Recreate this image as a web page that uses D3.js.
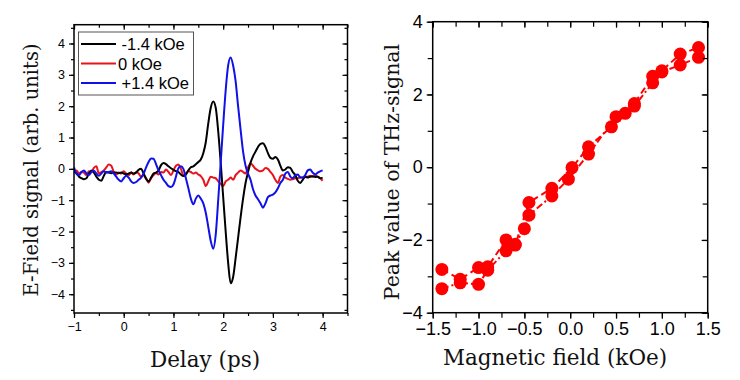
<!DOCTYPE html>
<html lang="en">
<head>
<meta charset="utf-8">
<title>THz signal vs delay and field</title>
<script src="https://cdnjs.cloudflare.com/ajax/libs/d3/7.8.5/d3.min.js"></script>
<style>
  body { margin: 0; background: #fff; }
  svg { display: block; }
  .tick text { font-family: "Liberation Sans", Arial, sans-serif; fill: #000; }
  .tick line { stroke: #000; stroke-width: 1.2; }
  .title { font-family: "DejaVu Serif", "Liberation Serif", serif; fill: #111; }
  .legend text { font-family: "Liberation Sans", Arial, sans-serif; font-size: 16.5px; }
</style>
</head>
<body>
<svg id="chart" width="740" height="380"></svg>
<script>
// ---- left panel: E-field traces
const delay = [-1.00,-0.95,-0.90,-0.85,-0.80,-0.75,-0.70,-0.65,-0.60,-0.55,-0.50,-0.45,-0.40,-0.35,-0.30,-0.25,-0.20,-0.15,-0.10,-0.05,
  0.00,0.05,0.10,0.15,0.20,0.25,0.30,0.35,0.40,0.45,0.50,0.55,0.60,0.65,0.70,0.75,0.80,0.85,0.90,0.95,
  1.00,1.05,1.10,1.15,1.20,1.25,1.30,1.35,1.40,1.45,1.50,1.55,1.60,1.65,1.70,1.75,1.80,1.85,1.90,1.95,
  2.00,2.05,2.10,2.15,2.20,2.25,2.30,2.35,2.40,2.45,2.50,2.55,2.60,2.65,2.70,2.75,2.80,2.85,2.90,2.95,
  3.00,3.05,3.10,3.15,3.20,3.25,3.30,3.35,3.40,3.45,3.50,3.55,3.60,3.65,3.70,3.75,3.80,3.85,3.90,3.95,4.00];

const sigNeg = [-0.08,-0.15,-0.25,-0.30,-0.33,-0.30,-0.15,-0.05,-0.12,-0.25,-0.35,-0.38,-0.22,-0.10,-0.12,-0.14,-0.12,-0.12,-0.14,-0.12,
  -0.15,-0.18,-0.15,-0.12,-0.15,-0.12,-0.03,0.00,-0.15,-0.32,-0.40,-0.28,-0.15,-0.12,-0.05,0.12,0.19,0.15,0.08,0.02,
  -0.03,-0.07,-0.10,-0.18,-0.23,-0.18,-0.05,0.05,0.08,0.15,0.22,0.30,0.50,0.85,1.45,1.95,2.15,1.95,1.20,0.20,
  -0.90,-2.00,-3.00,-3.65,-3.45,-2.85,-2.20,-1.55,-0.95,-0.45,-0.10,0.20,0.40,0.55,0.70,0.80,0.82,0.70,0.50,0.35,
  0.32,0.38,0.30,0.10,-0.05,-0.02,0.05,0.03,-0.10,-0.20,-0.38,-0.45,-0.35,-0.25,-0.28,-0.25,-0.24,-0.26,-0.25,-0.30,-0.28];

const sigZero = [-0.10,-0.05,-0.15,-0.10,-0.12,-0.20,-0.08,-0.10,0.03,0.08,-0.15,-0.10,-0.05,0.05,0.14,0.10,-0.10,-0.18,-0.12,-0.15,
  -0.08,-0.15,-0.20,-0.12,-0.18,-0.10,-0.15,-0.25,-0.20,-0.30,-0.44,-0.30,-0.20,-0.13,-0.18,-0.10,-0.12,-0.02,-0.10,-0.20,
  -0.05,0.10,0.14,0.00,-0.20,-0.15,-0.07,-0.10,-0.15,-0.12,-0.18,-0.23,-0.35,-0.55,-0.40,-0.25,-0.28,-0.30,-0.40,-0.48,
  -0.55,-0.40,-0.35,-0.28,-0.35,-0.20,-0.12,-0.05,-0.10,-0.15,0.05,0.18,0.10,0.00,-0.05,-0.08,-0.05,0.03,0.00,-0.10,
  -0.20,-0.35,-0.45,-0.25,-0.20,-0.28,-0.32,-0.35,-0.33,-0.30,-0.30,-0.28,-0.28,-0.25,-0.25,-0.22,-0.25,-0.22,-0.25,-0.30,-0.38];

const sigPos = [0.05,-0.15,-0.20,-0.10,-0.05,-0.15,-0.20,-0.10,-0.06,-0.15,-0.22,-0.15,-0.08,-0.12,-0.10,-0.08,-0.15,-0.25,-0.35,-0.40,
  -0.30,-0.22,-0.28,-0.40,-0.45,-0.42,-0.35,-0.28,-0.15,0.05,0.22,0.33,0.32,0.15,-0.05,-0.20,-0.35,-0.45,-0.55,-0.58,
  -0.50,-0.25,0.02,0.08,0.00,-0.30,-0.62,-0.95,-1.13,-0.95,-0.85,-0.95,-1.10,-1.40,-1.85,-2.30,-2.55,-2.10,-1.00,0.20,
  1.40,2.50,3.30,3.55,3.30,2.80,2.00,1.25,0.55,0.10,-0.15,-0.35,-0.65,-0.85,-0.97,-1.10,-1.24,-1.10,-0.90,-0.85,
  -0.82,-0.75,-0.62,-0.45,-0.35,-0.15,-0.10,-0.25,-0.30,-0.20,-0.18,-0.28,-0.28,-0.20,-0.05,-0.02,-0.12,-0.18,-0.12,-0.08,-0.05];

const traceNames = ["-1.4 kOe", "0 kOe", "+1.4 kOe"];
const traceColors = ["#000000", "#e8141c", "#1010e8"];

// ---- right panel: peak value vs field (two sweeps)
const fieldA = [-1.4,-1.2,-1.0,-0.9,-0.7,-0.6,-0.45,-0.2,0.02,0.2,0.45,0.6,0.7,0.9,1.0,1.2,1.4];
const peakA  = [-2.81,-3.08,-2.76,-2.74,-2.00,-2.14,-0.97,-0.58,-0.01,0.56,1.11,1.48,1.75,2.50,2.65,3.11,3.29];
const fieldB = [-1.4,-1.2,-1.0,-0.9,-0.7,-0.6,-0.5,-0.45,-0.2,-0.02,0.2,0.5,0.7,0.9,1.0,1.2,1.4];
const peakB  = [-3.34,-3.18,-3.22,-2.83,-2.30,-2.12,-1.69,-1.32,-0.79,-0.33,0.36,1.39,1.68,2.32,2.62,2.81,3.02];

const svg = d3.select("#chart");

// framed box: outward ticks on bottom/left, inward ticks on top/right
function frame(x, y, opt) {
  const g = svg.append("g");
  const [x0, x1] = x.range(), [y0, y1] = y.range();
  const axes = [
    [d3.axisBottom(x), `translate(0,${y0})`, opt.xMajor, opt.xMinor, true, opt.xFont, opt.xFmt],
    [d3.axisTop(x), `translate(0,${y1})`, opt.xMajor, opt.xMinor, false],
    [d3.axisLeft(y), `translate(${x0},0)`, opt.yMajor, opt.yMinor, true, opt.yFont, opt.yFmt],
    [d3.axisRight(y), `translate(${x1},0)`, opt.yMajor, opt.yMinor, false]
  ];
  axes.forEach(([ax, tr, major, minor, outside, font, fmt]) => {
    const s = outside ? 1 : -1;
    g.append("g").attr("transform", tr)
      .call(ax.tickValues(minor).tickFormat("").tickSizeInner(s * opt.minorLen).tickSizeOuter(0))
      .call(a => a.select(".domain").remove());
    g.append("g").attr("transform", tr)
      .call(ax.tickValues(major).tickFormat(outside ? fmt : "").tickSizeInner(s * opt.majorLen)
        .tickSizeOuter(0).tickPadding(outside ? opt.pad : 3))
      .call(a => a.select(".domain").remove())
      .call(a => a.selectAll("text").style("font-size", font + "px"));
  });
  g.append("rect")
    .attr("x", x0).attr("y", y1)
    .attr("width", x1 - x0).attr("height", y0 - y1)
    .attr("fill", "none").attr("stroke", "#000").attr("stroke-width", 1.5);
  return g;
}

// ---- left panel
const xL = d3.scaleLinear().domain([-1, 4.5]).range([74, 347.5]);
const yL = d3.scaleLinear().domain([-4.6, 4.6]).range([313, 24.7]);

svg.append("clipPath").attr("id", "clipL").append("rect")
  .attr("x", 74).attr("y", 24.7).attr("width", 273.5).attr("height", 288.3);

const traces = [sigNeg, sigZero, sigPos];
const lineL = d3.line().x((d, i) => xL(delay[i])).y(d => yL(d)).curve(d3.curveMonotoneX);
const plotL = svg.append("g").attr("clip-path", "url(#clipL)");
// red first so black and blue stay on top
[1, 0, 2].forEach(k => {
  plotL.append("path").datum(traces[k])
    .attr("d", lineL)
    .attr("fill", "none")
    .attr("stroke", traceColors[k])
    .attr("stroke-width", 2)
    .attr("stroke-linejoin", "round");
});

frame(xL, yL, {
  xMajor: [-1, 0, 1, 2, 3, 4], xMinor: d3.range(-1, 4.51, 0.5),
  yMajor: [-4, -3, -2, -1, 0, 1, 2, 3, 4], yMinor: d3.range(-4.5, 4.51, 0.5),
  majorLen: 5, minorLen: 3, pad: 4, xFont: 12.5, yFont: 12.5,
  xFmt: d3.format("d"), yFmt: d3.format("d")
});

// legend
const leg = svg.append("g").attr("class", "legend");
leg.append("rect").attr("x", 78.5).attr("y", 32).attr("width", 115).attr("height", 63)
  .attr("fill", "#fff").attr("stroke", "#555").attr("stroke-width", 1);
traceNames.forEach((name, i) => {
  const yy = 44 + i * 19.5;
  leg.append("line").attr("x1", 81).attr("x2", 116).attr("y1", yy).attr("y2", yy)
    .attr("stroke", traceColors[i]).attr("stroke-width", 2);
  leg.append("text").attr("x", i === 1 ? 118 : 121.5).attr("y", yy + 6).text(name);
});

svg.append("text").attr("class", "title")
  .attr("transform", "translate(38,170) rotate(-90)")
  .attr("text-anchor", "middle").style("font-size", "19.5px")
  .text("E-Field signal (arb. units)");
svg.append("text").attr("class", "title")
  .attr("x", 205).attr("y", 367)
  .attr("text-anchor", "middle").style("font-size", "21.5px")
  .text("Delay (ps)");

// ---- right panel
const xR = d3.scaleLinear().domain([-1.5, 1.5]).range([432.7, 707.7]);
const yR = d3.scaleLinear().domain([-4, 4]).range([312.7, 21.7]);

const sweeps = [
  { xs: fieldA, ys: peakA, dash: "7,4" },
  { xs: fieldB, ys: peakB, dash: "7,3,2,3" }
];
const lineR = d3.line().x(d => xR(d[0])).y(d => yR(d[1]));
sweeps.forEach(s => {
  const pts = s.xs.map((v, i) => [v, s.ys[i]]);
  svg.append("path").datum(pts)
    .attr("d", lineR)
    .attr("fill", "none").attr("stroke", "#f00")
    .attr("stroke-width", 2).attr("stroke-dasharray", s.dash);
});
sweeps.forEach(s => {
  svg.append("g").selectAll("circle")
    .data(s.xs.map((v, i) => [v, s.ys[i]]))
    .join("circle")
    .attr("cx", d => xR(d[0])).attr("cy", d => yR(d[1]))
    .attr("r", 6.5).attr("fill", "#f00");
});

frame(xR, yR, {
  xMajor: [-1.5, -1, -0.5, 0, 0.5, 1, 1.5], xMinor: d3.range(-1.5, 1.51, 0.25),
  yMajor: [-4, -2, 0, 2, 4], yMinor: [-4, -3, -2, -1, 0, 1, 2, 3, 4],
  majorLen: 6, minorLen: 5, pad: 4, xFont: 18, yFont: 18,
  xFmt: d3.format(".1f"), yFmt: d3.format("d")
});

svg.append("text").attr("class", "title")
  .attr("transform", "translate(399,172) rotate(-90)")
  .attr("text-anchor", "middle").style("font-size", "20.5px")
  .text("Peak value of THz-signal");
svg.append("text").attr("class", "title")
  .attr("x", 555).attr("y", 365)
  .attr("text-anchor", "middle").style("font-size", "21.5px")
  .text("Magnetic field (kOe)");
</script>
</body>
</html>
